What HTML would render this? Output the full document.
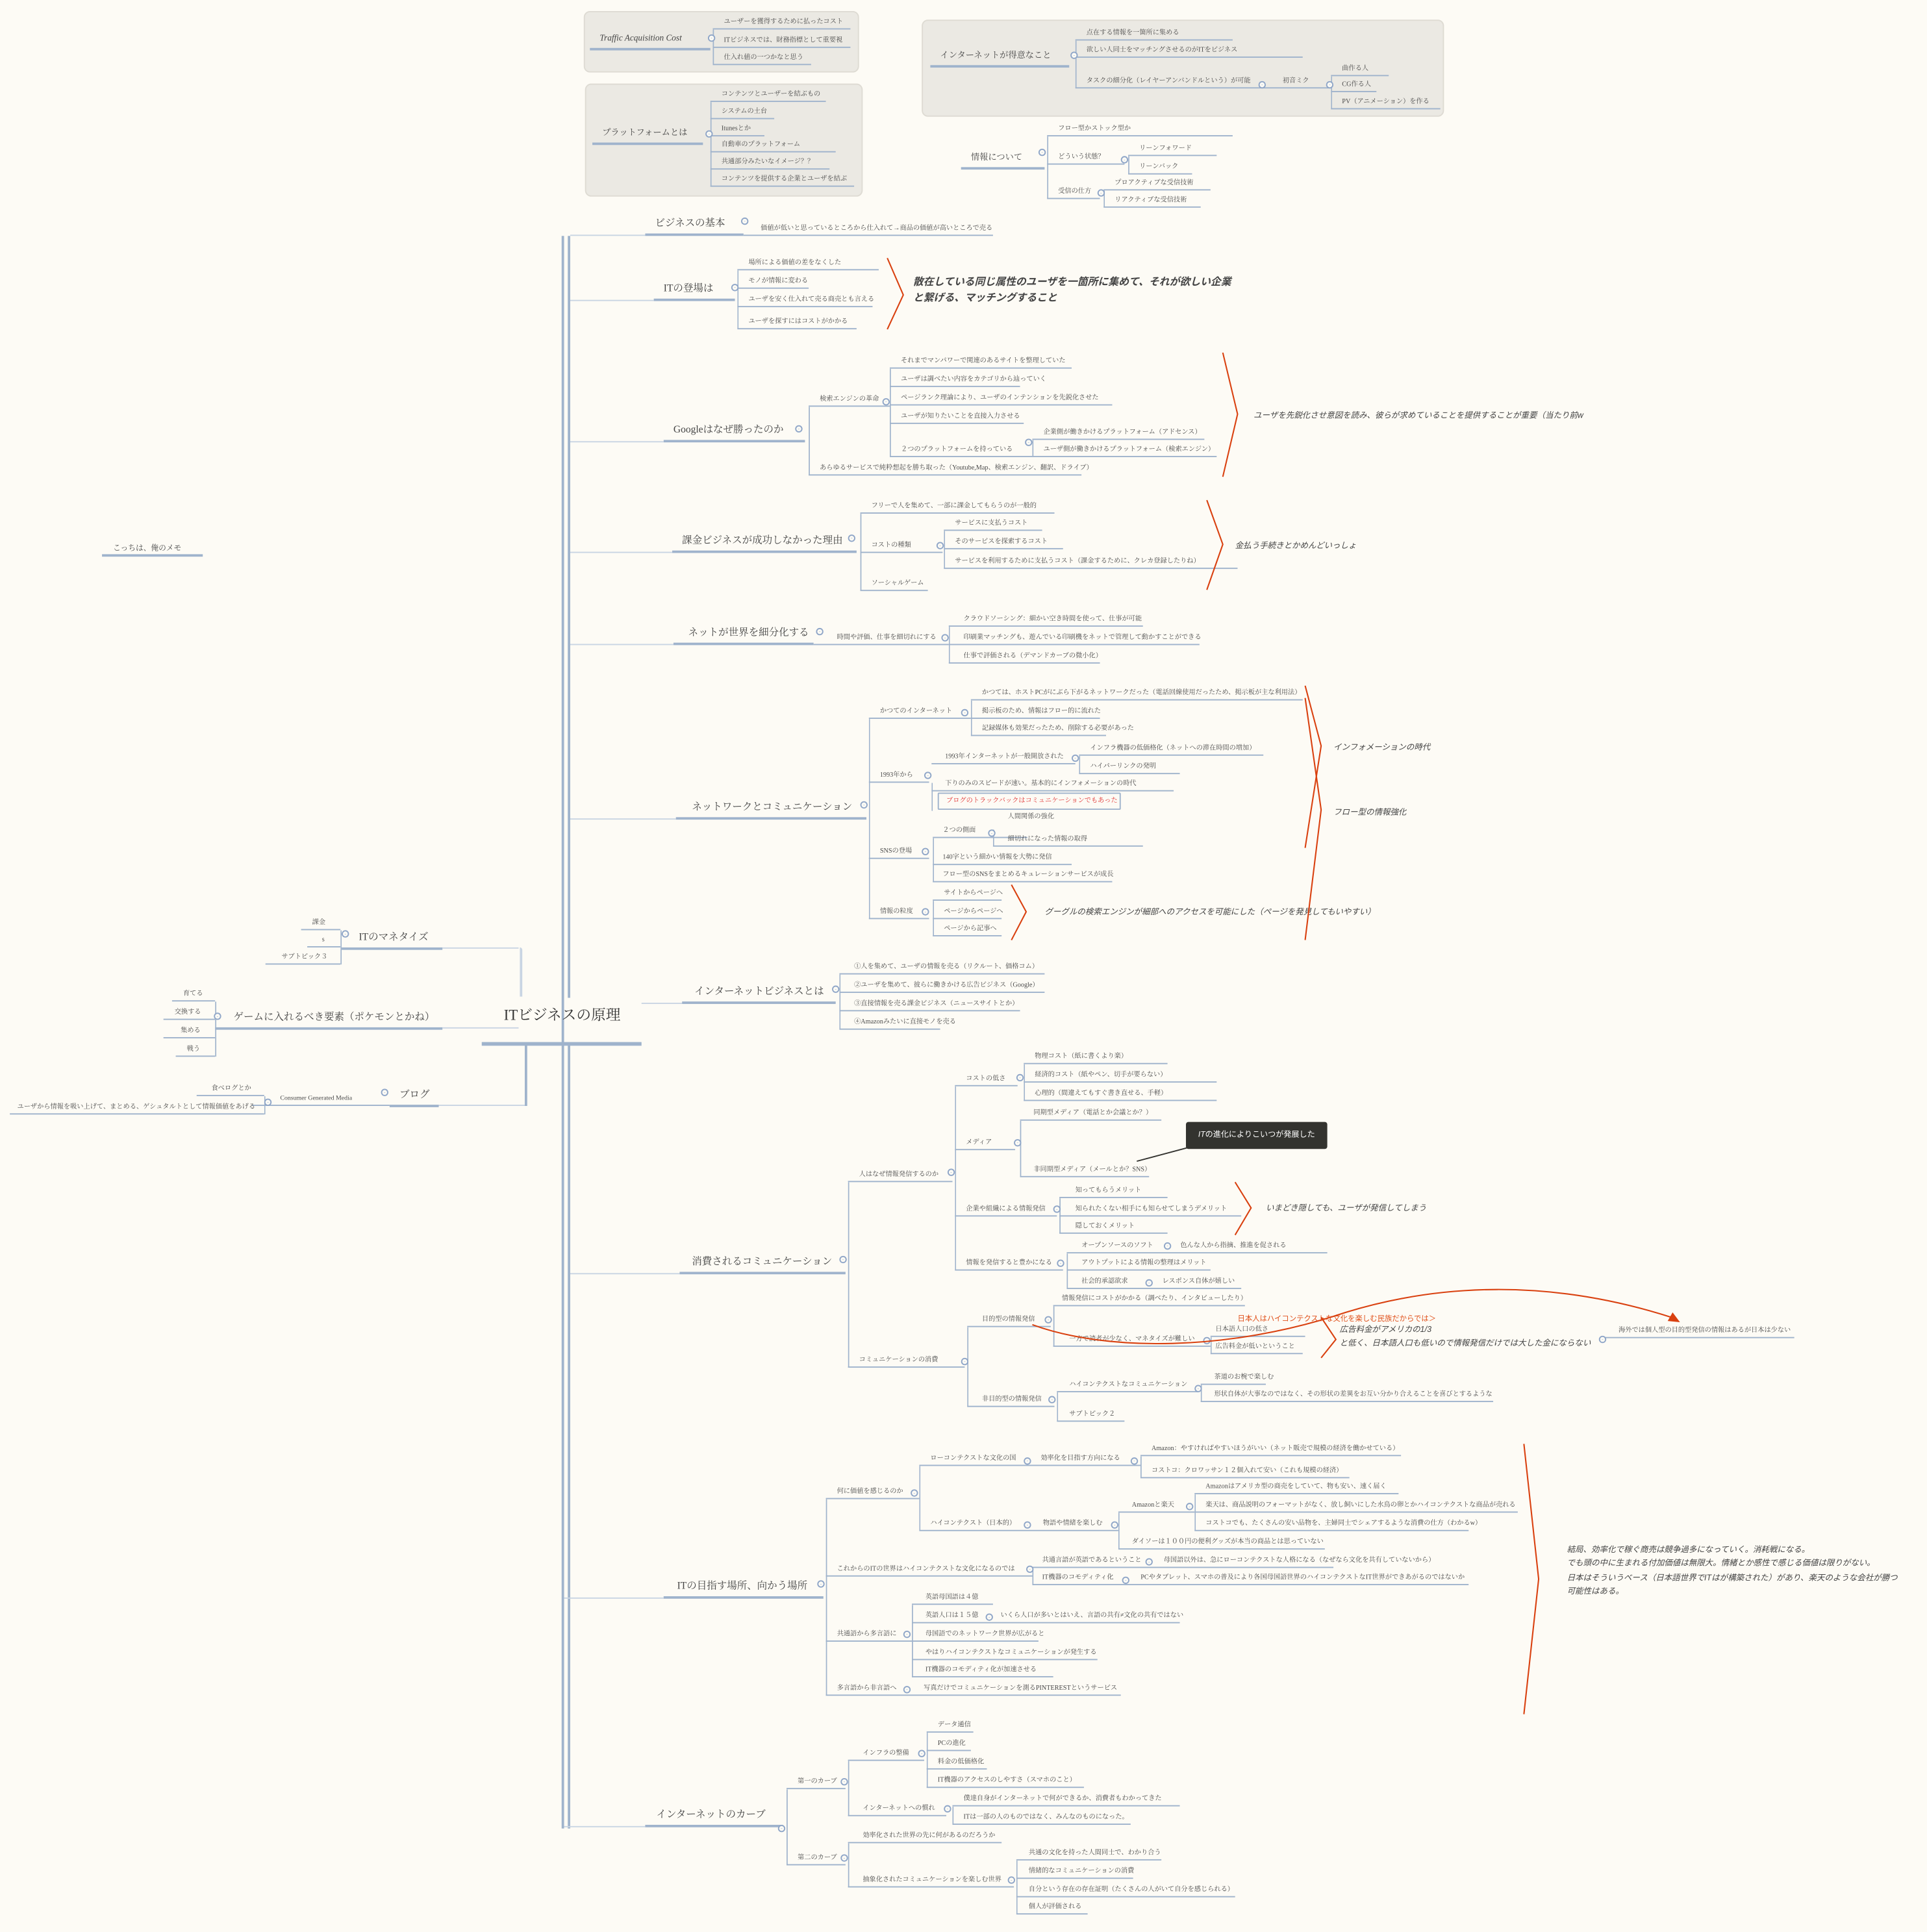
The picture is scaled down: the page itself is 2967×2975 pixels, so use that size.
<!DOCTYPE html>
<html><head><meta charset="utf-8">
<style>
html,body{margin:0;padding:0;background:#fdfbf5;}
#s{position:absolute;left:0;top:0;width:1568px;height:1572px;transform:scale(1.89222);transform-origin:0 0;font-family:"Liberation Serif","Noto Serif CJK SC","Noto Sans CJK JP",serif;color:#4a4a4a;overflow:hidden}
.n{position:absolute;white-space:nowrap;font-size:5.4px;line-height:8px;height:10px;box-sizing:border-box;border-bottom:1.2px solid #9fb3cc;padding-left:9px}
.m{position:absolute;white-space:nowrap;font-size:8.2px;line-height:12px;height:16px;box-sizing:border-box;border-bottom:2.6px solid #9fb3cc;padding-left:8px;color:#444}
.v{position:absolute;width:0;border-left:1.2px solid #9fb3cc;border-radius:2px}
.h{position:absolute;height:0;border-top:1.6px solid #c9d5e3}
.box{position:absolute;background:#ebe9e3;border:1px solid #dedbd3;border-radius:5px}
.c{position:absolute;width:4px;height:4px;border:0.6px solid #8fa6c8;border-radius:50%;font-size:4px;line-height:4px;text-align:center;color:#8fa6c8;background:#fdfbf5}
.r{position:absolute;white-space:nowrap;font-family:"Liberation Sans","Noto Sans CJK JP",sans-serif;font-style:italic;font-size:6.6px;color:#444}
</style></head><body><div id="s">

<!-- top boxes -->
<div class="box" style="left:475px;top:9px;width:222px;height:48px"></div>
<div class="box" style="left:476px;top:68px;width:224px;height:90px"></div>
<div class="box" style="left:750px;top:16px;width:423px;height:77px"></div>

<div class="m" style="left:480px;top:25px;width:98px;font-style:italic;font-size:7px">Traffic Acquisition Cost</div>
<i class="v" style="left:580px;top:24px;height:29px"></i>
<div class="n" style="left:580px;top:14px;width:112px">ユーザーを獲得するために払ったコスト</div>
<div class="n" style="left:580px;top:29px;width:112px">ITビジネスでは、財務指標として重要視</div>
<div class="n" style="left:580px;top:43px;width:80px">仕入れ値の一つかなと思う</div>

<div class="m" style="left:482px;top:102px;width:90px;font-size:7px">プラットフォームとは</div>
<i class="v" style="left:578px;top:83px;height:69px"></i>
<div class="n" style="left:578px;top:73px;width:94px">コンテンツとユーザーを結ぶもの</div>
<div class="n" style="left:578px;top:87px;width:52px">システムの土台</div>
<div class="n" style="left:578px;top:101px;width:44px">Itunesとか</div>
<div class="n" style="left:578px;top:114px;width:102px">自動車のプラットフォーム</div>
<div class="n" style="left:578px;top:128px;width:97px">共通部分みたいなイメージ？？</div>
<div class="n" style="left:578px;top:142px;width:117px">コンテンツを提供する企業とユーザを結ぶ</div>

<div class="m" style="left:757px;top:39px;width:113px;font-size:7px">インターネットが得意なこと</div>
<i class="v" style="left:875px;top:33px;height:39px"></i>
<div class="n" style="left:875px;top:23px;width:128px">点在する情報を一箇所に集める</div>
<div class="n" style="left:875px;top:37px;width:185px">欲しい人同士をマッチングさせるのがITをビジネス</div>
<div class="n" style="left:875px;top:62px;width:208px">タスクの細分化（レイヤーアンバンドルという）が可能<span style="padding-left:26px">初音ミク</span></div>
<i class="v" style="left:1083px;top:62px;height:27px"></i>
<div class="n" style="left:1083px;top:52px;width:47px">曲作る人</div>
<div class="n" style="left:1083px;top:65px;width:37px">CG作る人</div>
<div class="n" style="left:1083px;top:79px;width:89px">PV（アニメーション）を作る</div>

<div class="m" style="left:782px;top:122px;width:68px;font-size:7px">情報について</div>
<i class="v" style="left:852px;top:111px;height:51px"></i>
<div class="n" style="left:852px;top:101px;width:151px">フロー型かストック型か</div>
<div class="n" style="left:852px;top:124px;width:63px">どういう状態？</div>
<i class="v" style="left:918px;top:127px;height:15px"></i>
<div class="n" style="left:918px;top:117px;width:72px">リーンフォワード</div>
<div class="n" style="left:918px;top:132px;width:52px">リーンバック</div>
<div class="n" style="left:852px;top:152px;width:43px">受信の仕方</div>
<i class="v" style="left:898px;top:155px;height:14px"></i>
<div class="n" style="left:898px;top:145px;width:87px">プロアクティブな受信技術</div>
<div class="n" style="left:898px;top:159px;width:79px">リアクティブな受信技術</div>

<!-- memo -->
<div class="n" style="left:83px;top:443px;width:82px;font-size:6.2px;border-bottom-width:2px">こっちは、俺のメモ</div>

<!-- trunk -->
<i style="position:absolute;left:457px;top:192px;width:2.2px;height:1296px;background:#9fb3cc"></i>
<i style="position:absolute;left:462px;top:192px;width:2.2px;height:620px;background:#9fb3cc"></i>
<i style="position:absolute;left:462px;top:850px;width:2.2px;height:638px;background:#9fb3cc"></i>

<!-- root -->
<div style="position:absolute;left:392px;top:815px;width:130px;height:36px;border-bottom:3px solid #9fb3cc;box-sizing:border-box;font-size:12px;line-height:22px;padding-left:18px;white-space:nowrap;color:#333">ITビジネスの原理</div>

<!-- left branches -->
<div class="h" style="left:360px;top:771px;width:62px"></div>
<i style="position:absolute;left:423px;top:771px;width:2px;height:40px;background:#c9d5e3;border-top-right-radius:3px"></i>
<div class="m" style="left:278px;top:757px;width:82px;padding-left:14px">ITのマネタイズ</div>
<i class="v" style="left:277px;top:757px;height:28px"></i>
<div class="n" style="left:245px;top:747px;width:32px">課金</div>
<div class="n" style="left:250px;top:761px;width:27px;padding-left:12px">s</div>
<div class="n" style="left:216px;top:775px;width:61px;padding-left:13px">サブトピック３</div>

<div class="h" style="left:360px;top:836px;width:62px"></div>
<div class="m" style="left:175px;top:822px;width:185px;padding-left:15px">ゲームに入れるべき要素（ポケモンとかね）</div>
<i class="v" style="left:175px;top:815px;height:45px"></i>
<div class="n" style="left:140px;top:805px;width:35px">育てる</div>
<div class="n" style="left:133px;top:820px;width:42px">交換する</div>
<div class="n" style="left:133px;top:835px;width:42px;padding-left:14px">集める</div>
<div class="n" style="left:143px;top:850px;width:32px">戦う</div>

<div class="h" style="left:357px;top:899px;width:70px"></div>
<i style="position:absolute;left:427px;top:850px;width:2px;height:50px;background:#9fb3cc"></i>
<div class="m" style="left:317px;top:885px;width:40px">ブログ</div>
<div class="n" style="left:205px;top:890px;width:112px;padding-left:23px;font-size:5.2px">Consumer Generated Media</div>
<i class="v" style="left:215px;top:892px;height:15px"></i>
<div class="n" style="left:160px;top:882px;width:55px;padding-left:12px">食べログとか</div>
<div class="n" style="left:8px;top:897px;width:207px;padding-left:6px">ユーザから情報を吸い上げて、まとめる、ゲシュタルトとして情報価値をあげる</div>

<!-- trunk connectors -->
<div class="h" style="left:464px;top:191px;width:61px"></div>
<div class="h" style="left:464px;top:244px;width:68px"></div>
<div class="h" style="left:464px;top:359px;width:76px"></div>
<div class="h" style="left:464px;top:449px;width:83px"></div>
<div class="h" style="left:464px;top:524px;width:84px"></div>
<div class="h" style="left:464px;top:666px;width:86px"></div>
<div class="h" style="left:522px;top:816px;width:33px"></div>
<div class="h" style="left:464px;top:1036px;width:89px"></div>
<div class="h" style="left:459px;top:1300px;width:81px"></div>
<div class="h" style="left:459px;top:1486px;width:66px"></div>

<!-- 1 -->
<div class="m" style="left:525px;top:176px;width:80px">ビジネスの基本</div>
<div class="n" style="left:605px;top:182px;width:203px;padding-left:14px">価値が低いと思っているところから仕入れて→商品の価値が高いところで売る</div>

<!-- 2 -->
<div class="m" style="left:532px;top:229px;width:66px">ITの登場は</div>
<i class="v" style="left:600px;top:220px;height:48px"></i>
<div class="n" style="left:600px;top:210px;width:115px">場所による価値の差をなくした</div>
<div class="n" style="left:600px;top:225px;width:58px">モノが情報に変わる</div>
<div class="n" style="left:600px;top:240px;width:110px">ユーザを安く仕入れて売る商売とも言える</div>
<div class="n" style="left:600px;top:258px;width:97px">ユーザを探すにはコストがかかる</div>
<div class="r" style="left:743px;top:223px;font-size:8.4px;font-weight:bold;line-height:13px">散在している同じ属性のユーザを一箇所に集めて、それが欲しい企業<br>と繋げる、マッチングすること</div>

<!-- 3 Google -->
<div class="m" style="left:540px;top:344px;width:115px">Googleはなぜ勝ったのか</div>
<i class="v" style="left:658px;top:331px;height:56px"></i>
<div class="n" style="left:658px;top:321px;width:66px">検索エンジンの革命</div>
<div class="n" style="left:658px;top:377px;width:222px">あらゆるサービスで純粋想起を勝ち取った（Youtube,Map、検索エンジン、翻訳、ドライブ）</div>
<i class="v" style="left:724px;top:300px;height:72px"></i>
<div class="n" style="left:724px;top:290px;width:148px">それまでマンパワーで関連のあるサイトを整理していた</div>
<div class="n" style="left:724px;top:305px;width:106px">ユーザは調べたい内容をカテゴリから辿っていく</div>
<div class="n" style="left:724px;top:320px;width:181px">ページランク理論により、ユーザのインテンションを先鋭化させた</div>
<div class="n" style="left:724px;top:335px;width:109px">ユーザが知りたいことを直接入力させる</div>
<div class="n" style="left:724px;top:362px;width:116px">２つのプラットフォームを持っている</div>
<i class="v" style="left:840px;top:358px;height:14px"></i>
<div class="n" style="left:840px;top:348px;width:140px">企業側が働きかけるプラットフォーム（アドセンス）</div>
<div class="n" style="left:840px;top:362px;width:150px">ユーザ側が働きかけるプラットフォーム（検索エンジン）</div>
<div class="r" style="left:1020px;top:332px">ユーザを先鋭化させ意図を読み、彼らが求めていることを提供することが重要（当たり前w</div>

<!-- 4 -->
<div class="m" style="left:547px;top:434px;width:150px">課金ビジネスが成功しなかった理由</div>
<i class="v" style="left:700px;top:418px;height:63px"></i>
<div class="n" style="left:700px;top:408px;width:158px">フリーで人を集めて、一部に課金してもらうのが一般的</div>
<div class="n" style="left:700px;top:440px;width:67px">コストの種類</div>
<div class="n" style="left:700px;top:471px;width:55px">ソーシャルゲーム</div>
<i class="v" style="left:768px;top:432px;height:31px"></i>
<div class="n" style="left:768px;top:422px;width:80px">サービスに支払うコスト</div>
<div class="n" style="left:768px;top:437px;width:97px">そのサービスを探索するコスト</div>
<div class="n" style="left:768px;top:453px;width:239px">サービスを利用するために支払うコスト（課金するために、クレカ登録したりね）</div>
<div class="r" style="left:1005px;top:438px">金払う手続きとかめんどいっしょ</div>

<!-- 5 -->
<div class="m" style="left:548px;top:509px;width:114px;padding-left:12px">ネットが世界を細分化する</div>
<div class="n" style="left:662px;top:515px;width:110px;padding-left:19px">時間や評価、仕事を細切れにする</div>
<i class="v" style="left:772px;top:510px;height:30px"></i>
<div class="n" style="left:772px;top:500px;width:158px;padding-left:12px">クラウドソーシング：細かい空き時間を使って、仕事が可能</div>
<div class="n" style="left:772px;top:515px;width:204px;padding-left:12px">印刷業マッチングも、遊んでいる印刷機をネットで管理して動かすことができる</div>
<div class="n" style="left:772px;top:530px;width:123px;padding-left:12px">仕事で評価される（デマンドカーブの微小化）</div>

<!-- 6 network -->
<div class="m" style="left:550px;top:651px;width:155px;padding-left:13px">ネットワークとコミュニケーション</div>
<i class="v" style="left:707px;top:585px;height:163px"></i>
<div class="n" style="left:707px;top:575px;width:83px">かつてのインターネット</div>
<div class="n" style="left:707px;top:627px;width:49px">1993年から</div>
<div class="n" style="left:707px;top:689px;width:49px">SNSの登場</div>
<div class="n" style="left:707px;top:738px;width:49px">情報の粒度</div>
<i class="v" style="left:790px;top:570px;height:29px"></i>
<div class="n" style="left:790px;top:560px;width:270px">かつては、ホストPCがにぶら下がるネットワークだった（電話回線使用だったため、掲示板が主な利用法）</div>
<div class="n" style="left:790px;top:575px;width:105px">掲示板のため、情報はフロー的に流れた</div>
<div class="n" style="left:790px;top:589px;width:110px">記録媒体も効果だったため、削除する必要があった</div>
<i class="v" style="left:758px;top:637px;height:23px"></i>
<div class="n" style="left:758px;top:612px;width:117px;padding-left:11px">1993年インターネットが一般開放された</div>
<div class="n" style="left:758px;top:634px;width:197px;padding-left:11px">下りのみのスピードが速い。基本的にインフォメーションの時代</div>
<div style="position:absolute;left:763px;top:645px;width:149px;height:14px;border:1.2px solid #9fb3cc;box-sizing:border-box;border-radius:1px;font-size:5.4px;line-height:12px;padding-left:6px;color:#e03030;white-space:nowrap">ブログのトラックバックはコミュニケーションでもあった</div>
<i class="v" style="left:878px;top:615px;height:15px"></i>
<div class="n" style="left:878px;top:605px;width:150px">インフラ機器の低価格化（ネットへの滞在時間の増加）</div>
<div class="n" style="left:878px;top:620px;width:82px">ハイパーリンクの発明</div>
<i class="v" style="left:759px;top:682px;height:36px"></i>
<div class="n" style="left:759px;top:672px;width:77px;padding-left:8px">２つの側面</div>
<div class="n" style="left:759px;top:694px;width:113px;padding-left:8px">140字という細かい情報を大勢に発信</div>
<div class="n" style="left:759px;top:708px;width:146px;padding-left:8px">フロー型のSNSをまとめるキュレーションサービスが成長</div>
<i class="v" style="left:808px;top:675px;height:14px"></i>
<div class="n" style="left:808px;top:661px;width:80px;padding-left:12px;border:none">人間関係の強化</div>
<div class="n" style="left:808px;top:679px;width:122px;padding-left:12px">細切れになった情報の取得</div>
<i class="v" style="left:759px;top:733px;height:29px"></i>
<div class="n" style="left:759px;top:723px;width:56px">サイトからページへ</div>
<div class="n" style="left:759px;top:738px;width:56px">ページからページへ</div>
<div class="n" style="left:759px;top:752px;width:56px">ページから記事へ</div>
<div class="r" style="left:850px;top:736px">グーグルの検索エンジンが細部へのアクセスを可能にした（ページを発見してもいやすい）</div>
<div class="r" style="left:1085px;top:602px">インフォメーションの時代</div>
<div class="r" style="left:1085px;top:655px">フロー型の情報強化</div>

<!-- 7 -->
<div class="m" style="left:555px;top:801px;width:125px;padding-left:10px">インターネットビジネスとは</div>
<i class="v" style="left:683px;top:793px;height:45px"></i>
<div class="n" style="left:683px;top:783px;width:167px;padding-left:12px">①人を集めて、ユーザの情報を売る（リクルート、価格コム）</div>
<div class="n" style="left:683px;top:798px;width:167px;padding-left:12px">②ユーザを集めて、彼らに働きかける広告ビジネス（Google）</div>
<div class="n" style="left:683px;top:813px;width:147px;padding-left:12px">③直接情報を売る課金ビジネス（ニュースサイトとか）</div>
<div class="n" style="left:683px;top:828px;width:82px;padding-left:12px">④Amazonみたいに直接モノを売る</div>

<!-- 8 consumption -->
<div class="m" style="left:553px;top:1021px;width:135px;padding-left:10px">消費されるコミュニケーション</div>
<i class="v" style="left:690px;top:962px;height:151px"></i>
<div class="n" style="left:690px;top:952px;width:85px">人はなぜ情報発信するのか</div>
<div class="n" style="left:690px;top:1103px;width:95px">コミュニケーションの消費</div>
<i class="v" style="left:777px;top:884px;height:150px"></i>
<div class="n" style="left:777px;top:874px;width:51px">コストの低さ</div>
<div class="n" style="left:777px;top:926px;width:49px">メディア</div>
<div class="n" style="left:777px;top:980px;width:83px">企業や組織による情報発信</div>
<div class="n" style="left:777px;top:1024px;width:88px">情報を発信すると豊かになる</div>
<i class="v" style="left:833px;top:866px;height:30px"></i>
<div class="n" style="left:833px;top:856px;width:117px">物理コスト（紙に書くより楽）</div>
<div class="n" style="left:833px;top:871px;width:157px">経済的コスト（紙やペン、切手が要らない）</div>
<div class="n" style="left:833px;top:886px;width:157px">心理的（間違えてもすぐ書き直せる、手軽）</div>
<i class="v" style="left:830px;top:912px;height:46px"></i>
<div class="n" style="left:830px;top:902px;width:115px;padding-left:11px">同期型メディア（電話とか会議とか？）</div>
<div class="n" style="left:830px;top:948px;width:105px;padding-left:11px">非同期型メディア（メールとか？SNS）</div>
<div style="position:absolute;left:965px;top:913px;width:115px;height:22px;background:#33332f;border-radius:2px;color:#fff;font-family:'Liberation Sans','Noto Sans CJK JP',sans-serif;font-size:6.4px;line-height:22px;text-align:center;white-space:nowrap"><i>IT</i>の進化によりこいつが発展した</div>
<i class="v" style="left:862px;top:975px;height:29px"></i>
<div class="n" style="left:862px;top:965px;width:88px;padding-left:13px">知ってもらうメリット</div>
<div class="n" style="left:862px;top:980px;width:148px;padding-left:13px">知られたくない相手にも知らせてしまうデメリット</div>
<div class="n" style="left:862px;top:994px;width:88px;padding-left:13px">隠しておくメリット</div>
<div class="r" style="left:1030px;top:977px">いまどき隠しても、ユーザが発信してしまう</div>
<i class="v" style="left:868px;top:1020px;height:29px"></i>
<div class="n" style="left:868px;top:1010px;width:212px;padding-left:12px">オープンソースのソフト<span style="padding-left:22px">色んな人から指摘、推進を促される</span></div>
<div class="n" style="left:868px;top:1024px;width:117px;padding-left:12px">アウトプットによる情報の整理はメリット</div>
<div class="n" style="left:868px;top:1039px;width:142px;padding-left:12px">社会的承認欲求<span style="padding-left:28px">レスポンス自体が嬉しい</span></div>
<i class="v" style="left:787px;top:1080px;height:65px"></i>
<div class="n" style="left:787px;top:1070px;width:68px;padding-left:12px">目的型の情報発信</div>
<div class="n" style="left:787px;top:1135px;width:71px;padding-left:12px">非目的型の情報発信</div>
<i class="v" style="left:857px;top:1063px;height:33px"></i>
<div class="n" style="left:857px;top:1053px;width:156px;padding-left:7px">情報発信にコストがかかる（調べたり、インタビューしたり）</div>
<div class="n" style="left:857px;top:1086px;width:128px;padding-left:13px">一方で読者が少なく、マネタイズが難しい</div>
<i class="v" style="left:985px;top:1088px;height:14px"></i>
<div class="n" style="left:985px;top:1078px;width:77px;padding-left:4px">日本語人口の低さ</div>
<div class="n" style="left:985px;top:1092px;width:75px;padding-left:4px">広告料金が低いということ</div>
<div style="position:absolute;left:1007px;top:1068px;font-family:'Liberation Sans','Noto Sans CJK JP',sans-serif;font-size:6px;color:#e0501a;white-space:nowrap">日本人はハイコンテクストな文化を楽しむ民族だからでは＞</div>
<div class="r" style="left:1090px;top:1077px;line-height:11px">広告料金がアメリカの1/3<br>と低く、日本語人口も低いので情報発信だけでは大した金にならない</div>
<div class="n" style="left:1305px;top:1079px;width:155px;padding-left:12px">海外では個人型の目的型発信の情報はあるが日本は少ない</div>
<i class="v" style="left:860px;top:1133px;height:24px"></i>
<div class="n" style="left:860px;top:1123px;width:115px;padding-left:10px">ハイコンテクストなコミュニケーション</div>
<div class="n" style="left:860px;top:1147px;width:55px;padding-left:10px">サブトピック２</div>
<i class="v" style="left:977px;top:1127px;height:14px"></i>
<div class="n" style="left:977px;top:1117px;width:53px;padding-left:11px">茶道のお椀で楽しむ</div>
<div class="n" style="left:977px;top:1131px;width:238px;padding-left:11px">形状自体が大事なのではなく、その形状の差異をお互い分かり合えることを喜びとするような</div>

<!-- 9 -->
<div class="m" style="left:540px;top:1285px;width:130px;padding-left:11px">ITの目指す場所、向かう場所</div>
<i class="v" style="left:672px;top:1220px;height:160px"></i>
<div class="n" style="left:672px;top:1210px;width:76px">何に価値を感じるのか</div>
<div class="n" style="left:672px;top:1273px;width:168px">これからのITの世界はハイコンテクストな文化になるのでは</div>
<div class="n" style="left:672px;top:1326px;width:70px">共通語から多言語に</div>
<div class="n" style="left:672px;top:1370px;width:240px">多言語から非言語へ<span style="padding-left:22px">写真だけでコミュニケーションを測るPINTERESTというサービス</span></div>
<i class="v" style="left:748px;top:1193px;height:53px"></i>
<div class="n" style="left:748px;top:1183px;width:180px">ローコンテクストな文化の国<span style="padding-left:20px">効率化を目指す方向になる</span></div>
<div class="n" style="left:748px;top:1236px;width:162px">ハイコンテクスト（日本的）<span style="padding-left:22px">物語や情緒を楽しむ</span></div>
<i class="v" style="left:928px;top:1185px;height:18px"></i>
<div class="n" style="left:928px;top:1175px;width:212px;padding-left:9px">Amazon：やすければやすいほうがいい（ネット販売で規模の経済を働かせている）</div>
<div class="n" style="left:928px;top:1193px;width:170px;padding-left:9px">コストコ：クロワッサン１２個入れて安い（これも規模の経済）</div>
<i class="v" style="left:910px;top:1231px;height:30px"></i>
<div class="n" style="left:910px;top:1221px;width:62px;padding-left:11px">Amazonと楽天</div>
<div class="n" style="left:910px;top:1251px;width:168px;padding-left:11px">ダイソーは１００円の便利グッズが本当の商品とは思っていない</div>
<i class="v" style="left:972px;top:1216px;height:30px"></i>
<div class="n" style="left:972px;top:1206px;width:166px">Amazonはアメリカ型の商売をしていて、物も安い、速く届く</div>
<div class="n" style="left:972px;top:1221px;width:263px">楽天は、商品説明のフォーマットがなく、放し飼いにした水鳥の卵とかハイコンテクストな商品が売れる</div>
<div class="n" style="left:972px;top:1236px;width:223px">コストコでも、たくさんの安い品物を、主婦同士でシェアするような消費の仕方（わかるw）</div>
<i class="v" style="left:840px;top:1276px;height:14px"></i>
<div class="n" style="left:840px;top:1266px;width:245px;padding-left:8px">共通言語が英語であるということ<span style="padding-left:18px">母国語以外は、急にローコンテクストな人格になる（なぜなら文化を共有していないから）</span></div>
<div class="n" style="left:840px;top:1280px;width:355px;padding-left:8px">IT機器のコモディティ化<span style="padding-left:22px">PCやタブレット、スマホの普及により各国母国語世界のハイコンテクストなIT世界ができあがるのではないか</span></div>
<i class="v" style="left:742px;top:1306px;height:59px"></i>
<div class="n" style="left:742px;top:1296px;width:66px;padding-left:11px">英語母国語は４億</div>
<div class="n" style="left:742px;top:1311px;width:218px;padding-left:11px">英語人口は１５億<span style="padding-left:18px">いくら人口が多いとはいえ、言語の共有≠文化の共有ではない</span></div>
<div class="n" style="left:742px;top:1326px;width:103px;padding-left:11px">母国語でのネットワーク世界が広がると</div>
<div class="n" style="left:742px;top:1341px;width:151px;padding-left:11px">やはりハイコンテクストなコミュニケーションが発生する</div>
<div class="n" style="left:742px;top:1355px;width:115px;padding-left:11px">IT機器のコモディティ化が加速させる</div>
<div class="r" style="left:1275px;top:1256px;line-height:11.3px">結局、効率化で稼ぐ商売は競争過多になっていく。消耗戦になる。<br>でも頭の中に生まれる付加価値は無限大。情緒とか感性で感じる価値は限りがない。<br>日本はそういうベース（日本語世界でITはが構築された）があり、楽天のような会社が勝つ<br>可能性はある。</div>

<!-- 10 -->
<div class="m" style="left:525px;top:1471px;width:112px;padding-left:9px">インターネットのカーブ</div>
<i class="v" style="left:640px;top:1456px;height:62px"></i>
<div class="n" style="left:640px;top:1446px;width:48px">第一のカーブ</div>
<div class="n" style="left:640px;top:1508px;width:48px">第二のカーブ</div>
<i class="v" style="left:690px;top:1433px;height:45px"></i>
<div class="n" style="left:690px;top:1423px;width:62px;padding-left:12px">インフラの整備</div>
<div class="n" style="left:690px;top:1468px;width:80px;padding-left:12px">インターネットへの慣れ</div>
<i class="v" style="left:754px;top:1410px;height:45px"></i>
<div class="n" style="left:754px;top:1400px;width:38px">データ通信</div>
<div class="n" style="left:754px;top:1415px;width:36px">PCの進化</div>
<div class="n" style="left:754px;top:1430px;width:49px">料金の低価格化</div>
<div class="n" style="left:754px;top:1445px;width:128px">IT機器のアクセスのしやすさ（スマホのこと）</div>
<i class="v" style="left:775px;top:1470px;height:15px"></i>
<div class="n" style="left:775px;top:1460px;width:185px">僕達自身がインターネットで何ができるか、消費者もわかってきた</div>
<div class="n" style="left:775px;top:1475px;width:145px">ITは一部の人のものではなく、みんなのものになった。</div>
<i class="v" style="left:690px;top:1500px;height:36px"></i>
<div class="n" style="left:690px;top:1490px;width:125px;padding-left:12px">効率化された世界の先に何があるのだろうか</div>
<div class="n" style="left:690px;top:1526px;width:135px;padding-left:12px">抽象化されたコミュニケーションを楽しむ世界</div>
<i class="v" style="left:827px;top:1514px;height:44px"></i>
<div class="n" style="left:827px;top:1504px;width:118px;padding-left:10px">共通の文化を持った人間同士で、わかり合う</div>
<div class="n" style="left:827px;top:1519px;width:95px;padding-left:10px">情緒的なコミュニケーションの消費</div>
<div class="n" style="left:827px;top:1534px;width:178px;padding-left:10px">自分という存在の存在証明（たくさんの人がいて自分を感じられる）</div>
<div class="n" style="left:827px;top:1548px;width:58px;padding-left:10px">個人が評価される</div>

<!-- collapse markers -->
<div class="c" style="left:576px;top:28px">-</div><div class="c" style="left:574px;top:106px">-</div><div class="c" style="left:871px;top:42px">-</div>
<div class="c" style="left:845px;top:121px">-</div><div class="c" style="left:912px;top:127px">-</div><div class="c" style="left:893px;top:154px">-</div>
<div class="c" style="left:1024px;top:66px">-</div><div class="c" style="left:1079px;top:66px">-</div>
<div class="c" style="left:603px;top:177px">-</div><div class="c" style="left:595px;top:231px">-</div><div class="c" style="left:647px;top:346px">-</div>
<div class="c" style="left:718px;top:324px">-</div><div class="c" style="left:834px;top:357px">-</div><div class="c" style="left:690px;top:435px">-</div>
<div class="c" style="left:762px;top:441px">-</div><div class="c" style="left:664px;top:511px">-</div><div class="c" style="left:766px;top:516px">-</div>
<div class="c" style="left:700px;top:652px">-</div><div class="c" style="left:782px;top:577px">-</div><div class="c" style="left:752px;top:628px">-</div>
<div class="c" style="left:872px;top:614px">-</div><div class="c" style="left:750px;top:690px">-</div><div class="c" style="left:804px;top:675px">-</div>
<div class="c" style="left:750px;top:739px">-</div><div class="c" style="left:677px;top:802px">-</div><div class="c" style="left:683px;top:1022px">-</div>
<div class="c" style="left:771px;top:951px">-</div><div class="c" style="left:827px;top:874px">-</div><div class="c" style="left:825px;top:927px">-</div>
<div class="c" style="left:857px;top:981px">-</div><div class="c" style="left:860px;top:1025px">-</div><div class="c" style="left:947px;top:1011px">-</div>
<div class="c" style="left:932px;top:1041px">-</div><div class="c" style="left:782px;top:1105px">-</div><div class="c" style="left:850px;top:1071px">-</div>
<div class="c" style="left:979px;top:1088px">-</div><div class="c" style="left:853px;top:1136px">-</div><div class="c" style="left:972px;top:1127px">-</div>
<div class="c" style="left:1301px;top:1087px">-</div><div class="c" style="left:665px;top:1286px">-</div><div class="c" style="left:741px;top:1212px">-</div>
<div class="c" style="left:833px;top:1186px">-</div><div class="c" style="left:920px;top:1186px">-</div><div class="c" style="left:833px;top:1238px">-</div>
<div class="c" style="left:904px;top:1238px">-</div><div class="c" style="left:965px;top:1223px">-</div><div class="c" style="left:835px;top:1274px">-</div>
<div class="c" style="left:932px;top:1268px">-</div><div class="c" style="left:913px;top:1283px">-</div><div class="c" style="left:735px;top:1327px">-</div>
<div class="c" style="left:802px;top:1313px">-</div><div class="c" style="left:735px;top:1372px">-</div><div class="c" style="left:633px;top:1485px">-</div>
<div class="c" style="left:684px;top:1447px">-</div><div class="c" style="left:684px;top:1509px">-</div><div class="c" style="left:747px;top:1424px">-</div>
<div class="c" style="left:768px;top:1469px">-</div><div class="c" style="left:820px;top:1527px">-</div>
<div class="c" style="left:278px;top:757px">-</div><div class="c" style="left:174px;top:824px">-</div><div class="c" style="left:215px;top:894px">-</div><div class="c" style="left:310px;top:886px">-</div>

<!-- red brackets and arrow -->
<svg style="position:absolute;left:0;top:0" width="1568" height="1572" viewBox="0 0 1568 1572">
<g fill="none" stroke="#d9400f" stroke-width="1.1">
<polyline points="722,210 735,240 722,268"/>
<polyline points="995,287 1007,337 995,388"/>
<polyline points="982,407 995,443 982,480"/>
<polyline points="1062,558 1075,607 1062,690"/>
<polyline points="1062,568 1075,659 1062,765"/>
<polyline points="823,720 835,742 823,765"/>
<polyline points="1005,962 1018,983 1005,1005"/>
<polyline points="1075,1072 1087,1090 1075,1105"/>
<polyline points="1240,1175 1252,1285 1240,1395"/>
<path d="M840,1078 C900,1100 1000,1100 1095,1068 C1170,1045 1260,1040 1360,1072"/>
</g>
<polygon points="1367,1076 1357,1075 1361,1068" fill="#d9400f"/>
<line x1="925" y1="945" x2="970" y2="933" stroke="#33332f" stroke-width="1"/>
</svg>

</div></body></html>
